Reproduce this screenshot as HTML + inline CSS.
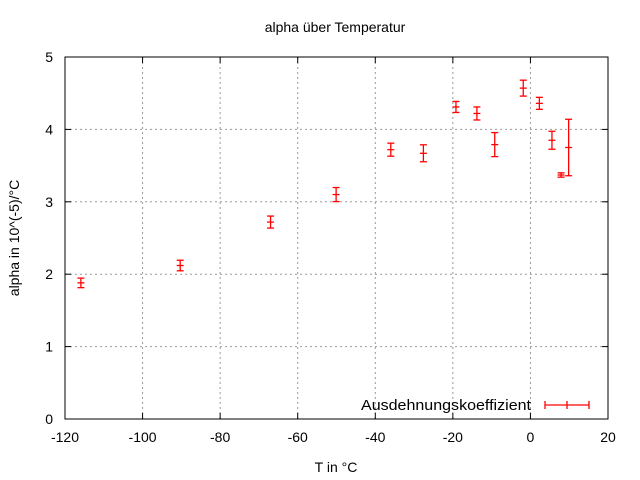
<!DOCTYPE html>
<html><head><meta charset="utf-8"><style>
html,body{margin:0;padding:0;background:#fff}
svg{display:block;font-family:"Liberation Sans",sans-serif}
</style></head><body>
<svg id="chart" width="640" height="480" viewBox="0 0 640 480">
<text x="335" y="32" font-size="14" text-anchor="middle">alpha über Temperatur</text>
<text x="336" y="472" font-size="14" text-anchor="middle">T in °C</text>
<text transform="translate(19,238) rotate(-90)" font-size="14" text-anchor="middle">alpha in 10^(-5)/°C</text>
<g id="grid"></g><g id="ticks"></g><g id="marks"></g>
<rect x="65" y="57" width="543" height="362" fill="none" stroke="#000" stroke-width="1"/>
<g>
<text x="361" y="410" font-size="15" textLength="170" lengthAdjust="spacingAndGlyphs">Ausdehnungskoeffizient</text>
<g stroke="red" stroke-width="1.3">
<line x1="545" y1="405" x2="589" y2="405"/><line x1="545" y1="401" x2="545" y2="409"/><line x1="589" y1="401" x2="589" y2="409"/><line x1="567" y1="401" x2="567" y2="409"/>
</g></g>
</svg>
<script>
const temps=[-115.9,-90.3,-67.0,-50.1,-36.0,-27.6,-19.2,-13.8,-9.2,-1.85,2.3,5.55,7.9,9.85];
const alphas=[1.88,2.12,2.72,3.10,3.72,3.67,4.31,4.22,3.79,4.57,4.36,3.85,3.37,3.75];
const errs=[0.066,0.073,0.083,0.097,0.09,0.117,0.076,0.09,0.166,0.11,0.083,0.124,0.03,0.39];
const xTicks=[-120,-100,-80,-60,-40,-20,0,20];
const yTicks=[0,1,2,3,4,5];
const X=v=>65+(v+120)/140*543, Y=v=>419-v/5*362;
const NS="http://www.w3.org/2000/svg";
function mk(t,a,p){const e=document.createElementNS(NS,t);for(const k in a)e.setAttribute(k,a[k]);p.appendChild(e);return e;}
const grid=document.getElementById('grid'),ticks=document.getElementById('ticks'),marks=document.getElementById('marks');
xTicks.forEach(v=>{const x=X(v);
 if(v>-120&&v<20){const g=mk('line',{x1:x,y1:57,x2:x,y2:419,stroke:'#999','stroke-dasharray':'2,3'},grid);
 
 }
 mk('line',{x1:x,y1:419,x2:x,y2:413,stroke:'#000'},ticks);mk('line',{x1:x,y1:57,x2:x,y2:63,stroke:'#000'},ticks);
 const t=mk('text',{x:x,y:442,'font-size':14,'text-anchor':'middle'},ticks);t.textContent=v;
 
 });
yTicks.forEach(v=>{const y=Y(v);
 if(v>0&&v<5){const g=mk('line',{x1:65,y1:y,x2:608,y2:y,stroke:'#999','stroke-dasharray':'2,3'},grid);
 
 }
 mk('line',{x1:65,y1:y,x2:71,y2:y,stroke:'#000'},ticks);mk('line',{x1:608,y1:y,x2:602,y2:y,stroke:'#000'},ticks);
 const t=mk('text',{x:53,y:y+5,'font-size':14,'text-anchor':'end'},ticks);t.textContent=v;
 
 });
temps.forEach((tv,i)=>{const x=X(tv),y=Y(alphas[i]),y1=Y(alphas[i]+errs[i]),y2=Y(alphas[i]-errs[i]);
 const g=mk('g',{stroke:'red','stroke-width':1.3},marks);
 
 
 mk('line',{x1:x,y1:y1,x2:x,y2:y2},g);mk('line',{x1:x-3.5,y1:y1,x2:x+3.5,y2:y1},g);
 mk('line',{x1:x-3.5,y1:y2,x2:x+3.5,y2:y2},g);mk('line',{x1:x-3.5,y1:y,x2:x+3.5,y2:y},g);});
</script>
</body></html>
